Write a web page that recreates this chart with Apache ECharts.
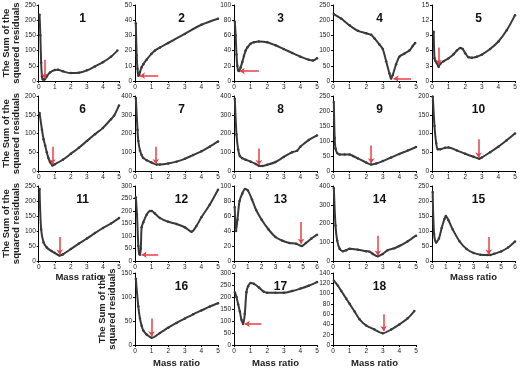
<!DOCTYPE html>
<html>
<head>
<meta charset="utf-8">
<script src="https://cdn.jsdelivr.net/npm/echarts@6/dist/echarts.min.js"></script>
<style>
  html, body { margin: 0; padding: 0; background: #fff; }
  #main { width: 520px; height: 369px; }
</style>
</head>
<body>
<div id="main"></div>
<script>
// residual curves, [mass ratio, sum of squared residuals]
var p1 = [[0.05,218],[0.1,150],[0.15,60],[0.2,15],[0.25,6],[0.3,5],[0.35,5],[0.4,7],[0.5,15],[0.7,28],[1,36],[1.2,37],[1.5,32],[2,26],[2.5,27],[3,35],[3.5,48],[4,62],[4.5,80],[4.9,100]];
var p2 = [[0.05,38],[0.1,17],[0.15,8],[0.2,3.5],[0.25,4],[0.3,6],[0.4,9],[0.5,11],[0.7,14],[1,18],[1.2,20],[1.5,22],[2,25],[3,31],[4,37],[5,41]];
var p3 = [[0.05,78],[0.1,60],[0.15,35],[0.2,20],[0.25,14],[0.3,13],[0.4,18],[0.5,25],[0.6,33],[0.7,40],[0.8,44],[1,49],[1.2,51],[1.5,52],[2,51],[2.5,47],[3,42],[3.5,37],[4,32],[4.5,28],[4.75,27],[5,30]];
var p4 = [[0.05,220],[0.5,205],[1,183],[1.5,165],[2,157],[2.3,152],[2.5,140],[2.8,120],[3,105],[3.2,65],[3.4,25],[3.5,8],[3.6,20],[3.8,55],[4,80],[4.3,90],[4.6,100],[4.8,115],[4.95,125]];
var p5 = [[0.1,9.7],[0.15,4.5],[0.2,4],[0.3,3.5],[0.4,2.8],[0.5,3.4],[0.7,3.9],[1,4.5],[1.3,5.3],[1.5,6],[1.7,6.5],[1.85,6.3],[2,5.5],[2.2,4.7],[2.4,4.6],[2.7,4.8],[3,5.2],[3.5,6.3],[4,7.8],[4.5,10],[5,13]];
var p6 = [[0.05,155],[0.2,110],[0.3,85],[0.4,68],[0.5,50],[0.6,35],[0.7,24],[0.85,15],[1,18],[1.5,30],[2,46],[2.5,62],[3,80],[3.5,98],[4,115],[4.5,138],[4.7,148],[5,175]];
var p7 = [[0.05,390],[0.15,220],[0.2,160],[0.3,110],[0.4,85],[0.5,70],[0.7,58],[1,45],[1.3,35],[1.5,35],[2,40],[2.5,50],[3,65],[3.5,85],[4,105],[4.5,130],[5,158]];
var p8 = [[0.05,385],[0.15,195],[0.25,115],[0.35,80],[0.5,68],[0.7,60],[1,50],[1.3,38],[1.5,28],[1.7,27],[2,33],[2.5,48],[3,75],[3.5,100],[3.8,108],[4,130],[4.5,165],[5,190]];
var p9 = [[0.05,230],[0.1,110],[0.15,75],[0.25,60],[0.4,55],[0.7,55],[1,55],[1.2,50],[1.5,42],[2,28],[2.3,22],[2.6,25],[3,33],[3.5,45],[4,57],[4.5,68],[5,80]];
var p10 = [[0.05,198],[0.15,120],[0.25,75],[0.35,58],[0.5,58],[0.8,62],[1,63],[1.5,55],[2,46],[2.5,38],[2.85,33],[3,36],[3.5,50],[4,65],[4.5,82],[5,100]];
var p11 = [[0.05,240],[0.15,105],[0.3,62],[0.5,45],[0.8,33],[1,27],[1.3,18],[1.5,22],[2,40],[2.5,58],[3,75],[3.5,93],[4,110],[4.5,125],[5,143]];
var p12 = [[0.05,255],[0.12,185],[0.2,60],[0.25,30],[0.3,25],[0.35,50],[0.4,135],[0.5,155],[0.7,185],[0.9,200],[1,200],[1.2,190],[1.5,172],[2,157],[2.5,148],[3,135],[3.4,117],[3.7,140],[4,175],[4.5,225],[5,285]];
var p13 = [[0.05,72],[0.15,40],[0.25,55],[0.4,80],[0.6,90],[0.8,96],[1,94],[1.3,82],[1.6,68],[2,55],[2.5,42],[3,32],[3.5,27],[4,24],[4.5,23],[4.9,20],[5.2,24],[5.6,30],[6,35]];
var p14 = [[0.05,390],[0.15,190],[0.25,110],[0.4,65],[0.6,52],[0.8,58],[1,65],[1.5,60],[2,52],[2.2,50],[2.4,38],[2.7,25],[3,38],[3.3,58],[3.7,68],[4,80],[4.5,105],[5,135]];
var p15 = [[0.05,230],[0.15,90],[0.3,62],[0.5,75],[0.7,110],[0.9,140],[1,150],[1.2,135],[1.5,105],[2,65],[2.5,40],[3,27],[3.5,21],[4,20],[4.2,20],[4.5,24],[5,32],[5.5,45],[6,65]];
var p16 = [[0.05,138],[0.2,80],[0.3,55],[0.4,40],[0.5,30],[0.7,22],[1,15],[1.5,25],[2,36],[2.5,46],[3,55],[3.5,64],[4,72],[4.5,80],[5,87]];
var p17 = [[0.05,220],[0.15,200],[0.25,170],[0.35,140],[0.45,105],[0.55,88],[0.65,130],[0.75,220],[0.85,245],[1,258],[1.2,255],[1.5,240],[1.8,222],[2,218],[2.5,218],[3,218],[3.5,225],[4,235],[4.5,247],[5,262]];
var p18 = [[0.05,125],[0.3,115],[0.5,105],[0.8,90],[1,80],[1.3,65],[1.6,50],[2,38],[2.5,30],[3,23],[3.5,30],[4,40],[4.5,52],[4.9,66]];

var curves = [p1,p2,p3,p4,p5,p6,p7,p8,p9,p10,p11,p12,p13,p14,p15,p16,p17,p18];
var yMax  = [250,50,100,250,15,200,400,400,250,200,250,300,100,400,250,150,300,140];
var yStep = [50,10,20,50,3,50,100,100,50,50,50,50,20,100,50,50,50,20];
var xMax  = [5,5,5,5,5,5,5,5,5,5,5,5,6,5,6,5,5,5];
// red arrows [fromX, fromY, toX, toY]
var arrows = [
  [0.35,70,0.35,8],[1.4,3.5,0.3,3.5],[1.5,13,0.35,13],[4.7,8,3.65,8],[0.4,6.6,0.4,3.2],
  [0.85,65,0.85,18],[1.25,130,1.25,38],[1.5,120,1.5,32],[2.3,85,2.3,26],[2.8,85,2.8,36],
  [1.3,80,1.3,22],[1.4,25,0.4,25],[4.85,52,4.85,23],[2.7,135,2.7,30],[4.1,80,4.1,22],
  [1.0,55,1.0,18],[1.65,88,0.65,88],[3.05,60,3.05,27]
];

var colLeft = [36,135,234,333,432];
var rowTop = [5,96,186,273];
var rowH = [76,75,75,74];
var W = 83;
var yName = 'The Sum of the\nsquared residuals';
var xName = 'Mass ratio';
var withYName = [0,5,10,15];
var withXName = [10,14,15,16,17];

var grids = [], xAxes = [], yAxes = [], series = [], titles = [];
for (var i = 0; i < 18; i++) {
  var r, c;
  if (i < 15) { r = Math.floor(i / 5); c = i % 5; }
  else { r = 3; c = i - 14; }
  grids.push({left: colLeft[c], top: rowTop[r], width: W, height: rowH[r]});
  xAxes.push({
    gridIndex: i, type: 'value', min: 0, max: xMax[i], interval: 1,
    name: withXName.indexOf(i) >= 0 ? xName : '',
    nameLocation: 'middle', nameGap: r == 3 ? 13 : 9,
    nameTextStyle: {fontSize: 9.5, fontWeight: 'bold', color: '#222', fontFamily: 'Liberation Sans'},
    axisLine: {lineStyle: {color: '#000', width: 1}},
    axisTick: {length: 2, lineStyle: {color: '#000'}},
    axisLabel: {fontSize: 6.5, color: '#222', margin: 3},
    splitLine: {show: false}
  });
  yAxes.push({
    gridIndex: i, type: 'value', min: 0, max: yMax[i], interval: yStep[i],
    name: withYName.indexOf(i) >= 0 ? yName : '',
    nameLocation: 'middle', nameRotate: 90, nameGap: i == 15 ? 14 : 12,
    nameTextStyle: {fontSize: 9.5, fontWeight: 'bold', color: '#222', lineHeight: 10, fontFamily: 'Liberation Sans'},
    axisLine: {show: true, lineStyle: {color: '#000', width: 1}},
    axisTick: {show: true, length: 2, lineStyle: {color: '#000'}},
    axisLabel: {fontSize: 6.5, color: '#222', margin: 3},
    splitLine: {show: false}
  });
  var a = arrows[i];
  series.push({
    type: 'line', xAxisIndex: i, yAxisIndex: i, data: curves[i],
    smooth: 0.3, symbol: 'circle', symbolSize: 2.5,
    itemStyle: {color: '#3a3a3a'},
    lineStyle: {color: '#3a3a3a', width: 2},
    markLine: {
      silent: true, symbol: ['none', 'arrow'], symbolSize: 5, animation: false,
      label: {show: false},
      lineStyle: {color: '#e8404a', width: 1.5, type: 'solid'},
      data: [[{coord: [a[0], a[1]]}, {coord: [a[2], a[3]]}]]
    }
  });
  titles.push({
    text: String(i + 1), left: colLeft[c] + W / 2, top: rowTop[r] + 3,
    textAlign: 'center',
    textStyle: {fontSize: 12, fontWeight: 'bold', color: '#111', fontFamily: 'Liberation Sans'}
  });
}

var myChart = echarts.init(document.getElementById('main'));
myChart.setOption({
  animation: false,
  backgroundColor: '#fff',
  textStyle: {fontFamily: 'Liberation Sans'},
  title: titles,
  grid: grids,
  xAxis: xAxes,
  yAxis: yAxes,
  series: series
});
</script>
</body>
</html>
